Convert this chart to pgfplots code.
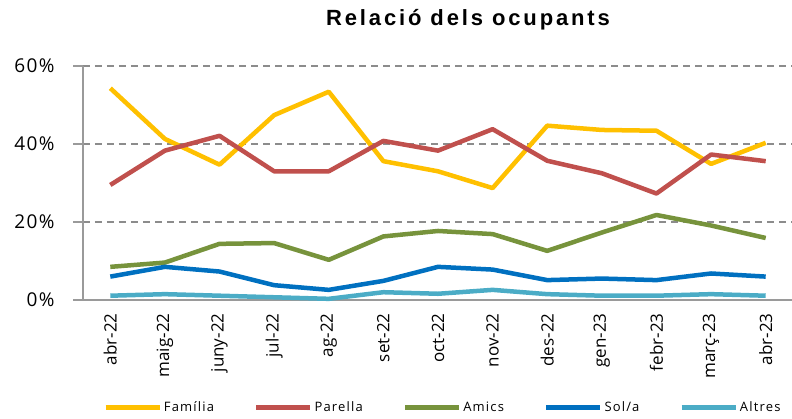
\documentclass[border=0pt]{standalone}
\usepackage{pgfplots}
\pgfplotsset{compat=1.18}
\usetikzlibrary{calc}
\usepackage{fontspec}
\setmainfont{Open Sans}
\newfontfamily\spaced[LetterSpace=7]{Open Sans}
\newfontfamily\legfont[LetterSpace=9]{Open Sans}
\newfontfamily\titlefont[LetterSpace=13]{Liberation Sans}
\definecolor{cfam}{HTML}{FFC000}
\definecolor{cpar}{HTML}{C0504D}
\definecolor{cami}{HTML}{77933C}
\definecolor{csol}{HTML}{0070C0}
\definecolor{calt}{HTML}{4BACC6}
\definecolor{axgray}{HTML}{9A9A9A}
\definecolor{grgray}{HTML}{8C8C8C}
\begin{document}
\begin{tikzpicture}[x=1pt,y=1pt]
\begin{axis}[
  scale only axis, width=710pt, height=234pt,
  xmin=-0.5, xmax=12.5, ymin=0, ymax=60,
  clip=false,
  axis lines=left,
  axis line style={-, draw=axgray, line width=1.5pt},
  tick align=outside,
  major tick length=10pt,
  ytick={0,20,40,60},
  yticklabel={\pgfmathprintnumber{\tick}\%},
  yticklabel style={font=\spaced\fontsize{19}{21}\selectfont, black, xshift=-15pt},
  ytick style={draw=axgray, line width=1.5pt},
  ymajorgrids,
  major grid style={draw=grgray, line width=1.2pt, dash pattern=on 7pt off 5pt},
  xtick={0,...,12},
  xticklabels={abr-22,maig-22,juny-22,jul-22,ag-22,set-22,oct-22,nov-22,des-22,gen-23,febr-23,març-23,abr-23},
  xticklabel style={rotate=90, anchor=east, font=\fontsize{17}{19}\selectfont, black},
  xtick style={draw=none},
  extra x ticks={-0.5,0.5,...,12.5},
  extra x tick labels={},
  extra x tick style={major tick length=7pt, tick style={draw=axgray, line width=1.5pt}},
  /pgf/number format/assume math mode=true,
  legend style={at={(axis description cs:0.507,-0.46)}, anchor=center, draw=none, fill=none,
    legend columns=5, font=\legfont\fontsize{13}{15}\selectfont},
  legend image code/.code={\draw[#1, line width=4.5pt] (0pt,0pt) -- (54pt,0pt);},
  every axis plot/.append style={line width=4.5pt, line join=round},
]
\coordinate (O) at (rel axis cs:0,0);
\addplot[cfam] coordinates {(0,54.3) (1,41.3) (2,34.7) (3,47.4) (4,53.4) (5,35.6) (6,33.0) (7,28.7) (8,44.7) (9,43.6) (10,43.4) (11,34.9) (12,40.3)};
\addlegendentry{Família\kern38pt}
\addplot[cpar] coordinates {(0,29.5) (1,38.3) (2,42.1) (3,33.0) (4,33.0) (5,40.8) (6,38.3) (7,43.8) (8,35.7) (9,32.5) (10,27.3) (11,37.3) (12,35.6)};
\addlegendentry{Parella\kern38pt}
\addplot[cami] coordinates {(0,8.5) (1,9.6) (2,14.4) (3,14.6) (4,10.3) (5,16.3) (6,17.7) (7,16.9) (8,12.6) (9,17.3) (10,21.8) (11,19.1) (12,15.9)};
\addlegendentry{Amics\kern38pt}
\addplot[csol] coordinates {(0,6.0) (1,8.5) (2,7.3) (3,3.8) (4,2.6) (5,4.9) (6,8.5) (7,7.8) (8,5.1) (9,5.5) (10,5.1) (11,6.8) (12,6.0)};
\addlegendentry{Sol/a\kern38pt}
\addplot[calt] coordinates {(0,1.1) (1,1.5) (2,1.1) (3,0.7) (4,0.3) (5,2.0) (6,1.6) (7,2.6) (8,1.5) (9,1.1) (10,1.1) (11,1.5) (12,1.1)};
\addlegendentry{Altres}
\end{axis}
\pgfresetboundingbox
\path[use as bounding box] ($(O)+(-83,-118)$) rectangle ($(O)+(709,300)$);
\node[font=\titlefont\bfseries\fontsize{22}{26}\selectfont] at ($(O)+(385,280)$) {Relació dels ocupants};
\end{tikzpicture}
\end{document}
